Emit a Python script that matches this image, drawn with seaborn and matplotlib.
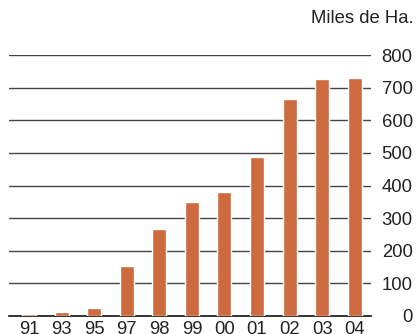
import matplotlib
matplotlib.use("Agg")
import matplotlib.pyplot as plt
import seaborn as sns
import pandas as pd
from matplotlib.ticker import FixedLocator

years = ["91", "93", "95", "97", "98", "99", "00", "01", "02", "03", "04"]
hectares = [6, 13, 25, 152, 268, 350, 381, 486, 664, 725, 731]
y_ticks = [0, 100, 200, 300, 400, 500, 600, 700, 800]
unit_label = "Miles de Ha."

bar_color = "#cd6a3f"
text_color = "#222222"
fsize = 13.3

sns.set_style("white")
plt.rcParams["font.family"] = ["Liberation Sans", "DejaVu Sans"]

df = pd.DataFrame({"year": years, "value": hectares})

fig = plt.figure(figsize=(4.19, 3.34), dpi=100)
ax = fig.add_axes([0.0222, 0.0539, 0.8632, 0.7814])

sns.barplot(data=df, x="year", y="value", color=bar_color, width=0.43,
            saturation=1, ax=ax, zorder=3)

ax.set_xlim(-0.61, 10.5)
ax.set_ylim(0, 800)
ax.set_xlabel("")
ax.set_ylabel("")

# horizontal rules
for v in y_ticks[1:]:
    ax.axhline(v, color="#444444", lw=1.0, zorder=1)

for s in ["top", "left", "right"]:
    ax.spines[s].set_visible(False)
ax.spines["bottom"].set_color("#111111")
ax.spines["bottom"].set_linewidth(1.2)
ax.spines["bottom"].set_zorder(2)

# x: labels centered, small tick marks at category boundaries
ax.tick_params(axis="x", which="major", length=0, pad=3.5, labelsize=fsize,
               labelcolor=text_color)
ax.xaxis.set_minor_locator(FixedLocator([i - 0.5 for i in range(len(years) + 1)]))
ax.tick_params(axis="x", which="minor", length=5.5, width=1, color="#111111",
               direction="out")

# y: labels on the right, right aligned
ax.yaxis.tick_right()
ax.set_yticks(y_ticks)
ax.tick_params(axis="y", length=0, pad=30, labelsize=fsize, labelcolor=text_color)
for lbl in ax.get_yticklabels():
    lbl.set_horizontalalignment("right")

fig.text(0.988, 0.946, unit_label, ha="right", va="center", fontsize=fsize,
         color=text_color)

fig.savefig("out.png", dpi=100)
